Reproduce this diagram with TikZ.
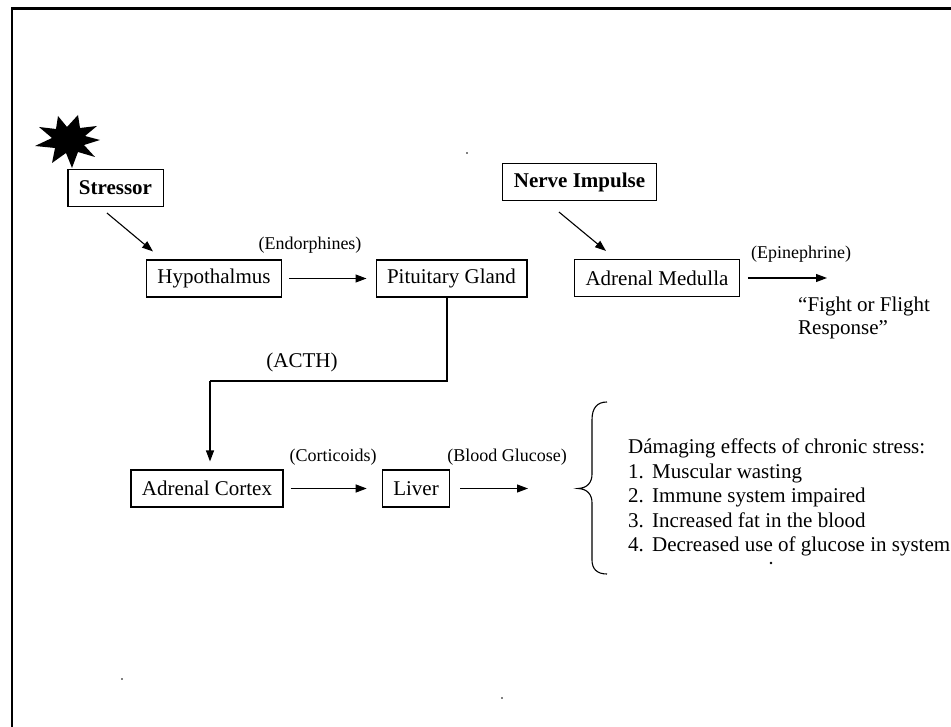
\documentclass[tikz,border=0pt]{standalone}
\usepackage{fontspec}
\setmainfont{Liberation Serif}
\usetikzlibrary{arrows.meta,calc}
\newcommand{\mainsz}{\fontsize{21}{24.5}\selectfont}
\newcommand{\labsz}{\fontsize{18}{21}\selectfont}
\tikzset{
  box/.style={draw, line width=1.1pt, minimum height=37pt, inner xsep=11pt, inner ysep=0pt, font=\mainsz},
  bbox/.style={box, font=\mainsz\bfseries},
  lab/.style={font=\labsz, inner sep=0pt},
  arr/.style={line width=1.1pt, -{Triangle[length=11pt,width=8pt]}},
  plain/.style={line width=1.1pt},
}
\begin{document}
\begin{tikzpicture}[x=1pt,y=-1pt]
\useasboundingbox (0,0) rectangle (951,727);
\fill[white] (0,0) rectangle (951,727);
% frame
\draw[line width=2.6pt] (12,727) -- (12,8.5) -- (951,8.5);

% starburst
\fill[black] (100,140) -- (84,145) -- (95,157) -- (78,152) -- (72,168) -- (66,153) -- (52,163) -- (55,148) -- (35,146) -- (52,138) -- (39,127) -- (56,129) -- (58,116) -- (67,127) -- (78,115) -- (80,128) -- (97,126) -- (85,136) -- cycle;

% nodes
\node[bbox] (stressor) at (115.5,188) {Stressor};
\node[box] (hypo) at (214,278.5) {Hypothalmus};
\node[box] (pit) at (451.5,278.5) {Pituitary Gland};
\node[bbox] (nerve) at (579.5,182) {Nerve Impulse};
\node[box] (medulla) at (657,278) {Adrenal Medulla};
\node[box] (cortex) at (207,488.5) {Adrenal Cortex};
\node[box] (liver) at (416,488.5) {Liver};

% labels
\node[lab] (lendo) at (310,245) {(Endorphines)};
\node[lab] (lepi) at (801,254) {(Epinephrine)};
\node[lab, font=\mainsz] (lacth) at (302,362) {(ACTH)};
\node[lab] (lcort) at (333,457) {(Corticoids)};
\node[lab] (lgluc) at (507,457) {(Blood Glucose)};

\node[anchor=north west, align=left, inner sep=0pt, font=\mainsz, text depth=0pt] (fight) at (798,297) {“Fight or Flight\\[-1.5pt]Response”};

\node[anchor=north west, align=left, inner sep=0pt, font=\mainsz] (effects) at (628,439) {Dámaging effects of chronic stress:\\
\makebox[24pt][l]{1.}Muscular wasting\\
\makebox[24pt][l]{2.}Immune system impaired\\
\makebox[24pt][l]{3.}Increased fat in the blood\\
\makebox[24pt][l]{4.}Decreased use of glucose in system};

% connector end points
\coordinate (epiend) at (827,278);
\coordinate (glucend) at (528,488.5);
\coordinate (bend) at (447,381);
\coordinate (bend2) at (210,381);

% connectors
\draw[arr] ([xshift=-8.5pt,yshift=-6pt]stressor.south) -- ([xshift=-61pt,yshift=8pt]hypo.north);
\draw[arr, shorten <=7pt, shorten >=9pt] (hypo.east) -- (pit.west);
\draw[arr] ([xshift=-20.5pt,yshift=-11pt]nerve.south) -- ([xshift=-51pt,yshift=8pt]medulla.north);
\draw[arr, shorten <=8pt] (medulla.east) -- (epiend);
\draw[plain] ([xshift=-4.5pt]pit.south) -- (bend) -- (bend2);
\draw[arr, shorten >=8pt] (bend2) -- ([xshift=3pt]cortex.north);
\draw[arr, shorten <=7pt, shorten >=15pt] (cortex.east) -- (liver.west);
\draw[arr, shorten <=10pt] (liver.east) -- (glucend);

% brace
\draw[line width=1.1pt] (607,402) .. controls (597,402) and (592,408) .. (592,420) -- (592,474) .. controls (592,483) and (587,488) .. (578,488.5) .. controls (587,489) and (592,494) .. (592,503) -- (592,560) .. controls (592,569) and (597,574) .. (607,574);

% scan specks
\fill (771,563) circle (1.3pt);
\fill (467,153) circle (0.8pt);
\fill (122,679) circle (0.8pt);
\fill (502,698) circle (0.8pt);
\end{tikzpicture}
\end{document}
